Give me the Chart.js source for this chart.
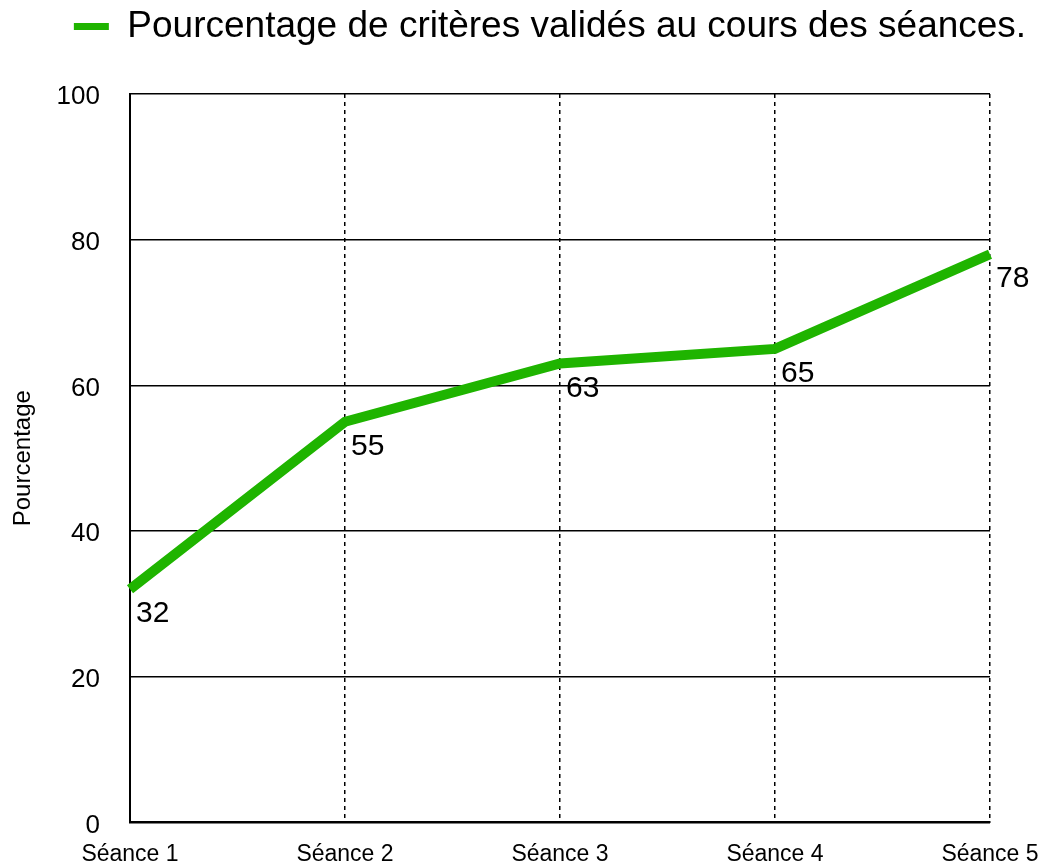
<!DOCTYPE html>
<html>
<head>
<meta charset="utf-8">
<script src="https://cdn.jsdelivr.net/npm/chart.js@4"></script>
<style>
  html, body { margin: 0; padding: 0; background: #fff; }
  #wrap { width: 1047px; height: 868px; }
</style>
</head>
<body>
<div id="wrap"><canvas id="myChart" width="1047" height="868"></canvas></div>
<script>
var seances = ['Séance 1', 'Séance 2', 'Séance 3', 'Séance 4', 'Séance 5'];
var pourcentages = [32, 55, 63, 65, 78];
var serieLabel = 'Pourcentage de critères validés au cours des séances.';
var vert = 'rgb(31, 180, 0)';
var police = '"Liberation Sans", Arial, Helvetica, sans-serif';

// numbers written below-right of each point
var etiquettes = {
  id: 'etiquettes',
  afterDatasetsDraw: function(chart) {
    var ctx = chart.ctx;
    var meta = chart.getDatasetMeta(0);
    ctx.save();
    ctx.fillStyle = '#000';
    ctx.font = '30px ' + police;
    ctx.textAlign = 'left';
    ctx.textBaseline = 'alphabetic';
    meta.data.forEach(function(pt, i) {
      ctx.fillText(String(pourcentages[i]), pt.x + 6, pt.y + 33);
    });
    ctx.restore();
  }
};

// leave a gap under the legend, down to the top of the plot
var legendeHaute = {
  id: 'legendeHaute',
  beforeInit: function(chart) {
    var fit = chart.legend.fit;
    chart.legend.fit = function() {
      fit.call(this);
      this.height = 96;
    };
  }
};

var ctx = document.getElementById('myChart').getContext('2d');
var chart = new Chart(ctx, {
  type: 'line',
  data: {
    labels: seances,
    datasets: [
      {
        label: serieLabel,
        data: pourcentages,
        borderColor: vert,
        backgroundColor: vert,
        borderWidth: 10,
        borderJoinStyle: 'miter',
        borderCapStyle: 'butt',
        pointRadius: 0,
        pointHoverRadius: 0,
        fill: false,
        tension: 0
      }
    ]
  },
  options: {
    responsive: false,
    animation: false,
    layout: {
      padding: { top: -2, left: 0, right: -53, bottom: 0 }
    },
    plugins: {
      tooltip: { enabled: false },
      legend: {
        position: 'top',
        labels: {
          color: '#000',
          font: { family: police, size: 37 },
          boxWidth: 35,
          boxHeight: 7,
          padding: 10,
          generateLabels: function(chart) {
            return Chart.defaults.plugins.legend.labels.generateLabels(chart).map(function(item) {
              item.lineWidth = 0;
              return item;
            });
          }
        }
      }
    },
    scales: {
      x: {
        offset: false,
        grid: { color: '#000', lineWidth: 1.5, drawTicks: false },
        border: { display: true, color: '#000', width: 2, dash: [4, 4] },
        ticks: {
          color: '#000',
          font: { family: police, size: 23 },
          padding: 18,
          maxRotation: 0
        },
        afterFit: function(scale) {
          scale.height = 44;
          scale.paddingRight = 57;
        }
      },
      y: {
        min: 0,
        max: 100,
        grid: { color: '#000', lineWidth: 1.5, drawTicks: false },
        border: { display: true, color: '#000', width: 2 },
        ticks: {
          stepSize: 20,
          color: '#000',
          font: { family: police, size: 26 },
          padding: 30,
          labelOffset: 3
        },
        title: {
          display: true,
          text: 'Pourcentage',
          color: '#000',
          font: { family: police, size: 24 },
          padding: { top: 9, bottom: 0 }
        },
        afterFit: function(scale) {
          scale.width = 130;
        }
      }
    }
  },
  plugins: [etiquettes, legendeHaute]
});
</script>
</body>
</html>
